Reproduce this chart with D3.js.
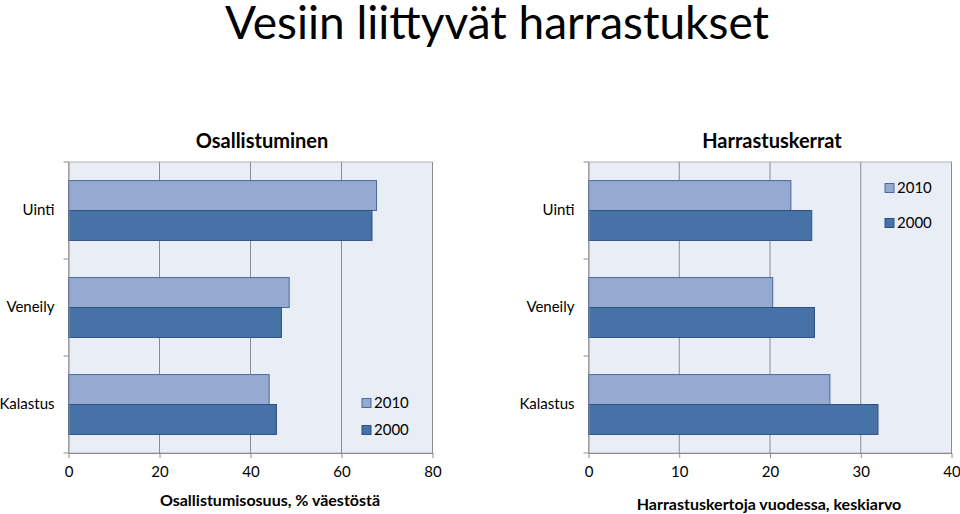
<!DOCTYPE html>
<html lang="fi">
<head>
<meta charset="UTF-8">
<title>Vesiin liittyvät harrastukset</title>
<style>
    body { margin: 0; padding: 0; background: #fff; }
    svg { display: block; font-family: Lato, "Open Sans", sans-serif; }
</style>
</head>
<body>
<script src="https://d3js.org/d3.v7.min.js"></script>
<script>
    // data
    const categories = ['Uinti', 'Veneily', 'Kalastus'];
    const years = ['2010', '2000'];
    const participation2010 = [67.7, 48.5, 44.1];
    const participation2000 = [66.7, 46.8, 45.7];
    const frequency2010 = [22.3, 20.3, 26.6];
    const frequency2000 = [24.6, 24.9, 31.9];
    const participationTicks = [0, 20, 40, 60, 80];
    const frequencyTicks = [0, 10, 20, 30, 40];

    const width = 960, height = 514;
    const colors = { '2010': '#95a9d1', '2000': '#4672a8' };
    const borders = { '2010': '#4a6a99', '2000': '#2f5180' };

    const svg = d3.select('body').append('svg')
        .attr('width', width)
        .attr('height', height);

    svg.append('text')
        .attr('x', 497)
        .attr('y', 39)
        .attr('text-anchor', 'middle')
        .attr('font-size', 46)
        .attr('fill', '#000')
        .text('Vesiin liittyvät harrastukset');

    function drawPanel(opt) {
        const g = svg.append('g');
        const x = d3.scaleLinear().domain([0, opt.ticks[opt.ticks.length - 1]]).range([opt.x0, opt.x1]);
        const y = d3.scaleBand().domain(categories).range([162, 453]);
        const y1 = d3.scaleBand().domain(years).range([0, y.bandwidth()]).paddingOuter(0.62);

        // plot area
        g.append('rect')
            .attr('x', opt.x0).attr('y', 162)
            .attr('width', opt.x1 - opt.x0).attr('height', 291)
            .attr('fill', '#e9edf5')
            .attr('stroke', '#b4b4b4');

        // gridlines
        g.append('g').selectAll('line')
            .data(opt.ticks.slice(1))
            .join('line')
            .attr('x1', d => x(d)).attr('x2', d => x(d))
            .attr('y1', 162).attr('y2', 453)
            .attr('stroke', '#8c8c8c');

        // bars
        const rows = categories.map((c, i) => ({ cat: c, vals: [
            { year: '2010', v: opt.v2010[i] },
            { year: '2000', v: opt.v2000[i] }
        ] }));
        g.append('g').selectAll('g')
            .data(rows)
            .join('g')
            .attr('transform', d => `translate(0,${y(d.cat)})`)
            .selectAll('rect')
            .data(d => d.vals)
            .join('rect')
            .attr('x', x(0))
            .attr('y', d => y1(d.year))
            .attr('width', d => x(d.v) - x(0))
            .attr('height', y1.bandwidth())
            .attr('fill', d => colors[d.year])
            .attr('stroke', d => borders[d.year])
            .attr('stroke-width', 1);

        // axes
        const xAxis = g.append('g')
            .attr('transform', 'translate(0,453)')
            .call(d3.axisBottom(x).tickValues(opt.ticks).tickSize(5).tickSizeOuter(0));
        xAxis.select('.domain').attr('stroke', '#8c8c8c');
        xAxis.selectAll('.tick line').attr('stroke', '#8c8c8c');
        xAxis.selectAll('.tick text')
            .attr('font-size', 15).attr('font-family', 'Lato, sans-serif')
            .attr('fill', '#000').attr('dy', '1.05em');

        const yAxis = g.append('g')
            .attr('transform', `translate(${opt.x0},0)`)
            .call(d3.axisLeft(y).tickSize(0));
        yAxis.select('.domain').attr('stroke', '#8c8c8c');
        yAxis.selectAll('.tick text')
            .attr('font-size', 15).attr('font-family', 'Lato, sans-serif')
            .attr('fill', '#000').attr('x', -14);
        // category boundary ticks
        yAxis.append('g').selectAll('line')
            .data([162, ...categories.map(c => y(c) + y.bandwidth())])
            .join('line')
            .attr('x1', -5).attr('x2', 0)
            .attr('y1', d => d).attr('y2', d => d)
            .attr('stroke', '#8c8c8c');

        // panel title and axis title
        g.append('text')
            .attr('x', opt.titleX).attr('y', 148)
            .attr('text-anchor', 'middle')
            .attr('font-size', 20).attr('font-weight', 'bold')
            .text(opt.title);
        g.append('text')
            .attr('x', opt.axisTitleX).attr('y', opt.axisTitleY)
            .attr('text-anchor', 'middle')
            .attr('font-size', 16).attr('font-weight', 'bold')
            .text(opt.axisTitle);

        // legend
        const lg = g.append('g').selectAll('g')
            .data(years)
            .join('g')
            .attr('transform', (d, i) => `translate(${opt.legendX},${opt.legendY + i * opt.legendStep})`);
        lg.append('rect')
            .attr('x', 0).attr('y', -4.5)
            .attr('width', 9).attr('height', 9)
            .attr('fill', d => colors[d])
            .attr('stroke', d => borders[d]);
        lg.append('text')
            .attr('x', 12).attr('y', 0).attr('dy', '0.36em')
            .attr('font-size', 15)
            .text(d => d);
    }

    drawPanel({
        x0: 68.5, x1: 432.5,
        ticks: participationTicks,
        v2010: participation2010, v2000: participation2000,
        title: 'Osallistuminen', titleX: 262,
        axisTitle: 'Osallistumisosuus, % väestöstä', axisTitleX: 270, axisTitleY: 506,
        legendX: 362, legendY: 403, legendStep: 27
    });
    drawPanel({
        x0: 588.5, x1: 951.5,
        ticks: frequencyTicks,
        v2010: frequency2010, v2000: frequency2000,
        title: 'Harrastuskerrat', titleX: 772,
        axisTitle: 'Harrastuskertoja vuodessa, keskiarvo', axisTitleX: 769, axisTitleY: 510,
        legendX: 885, legendY: 188, legendStep: 35
    });
</script>
</body>
</html>
